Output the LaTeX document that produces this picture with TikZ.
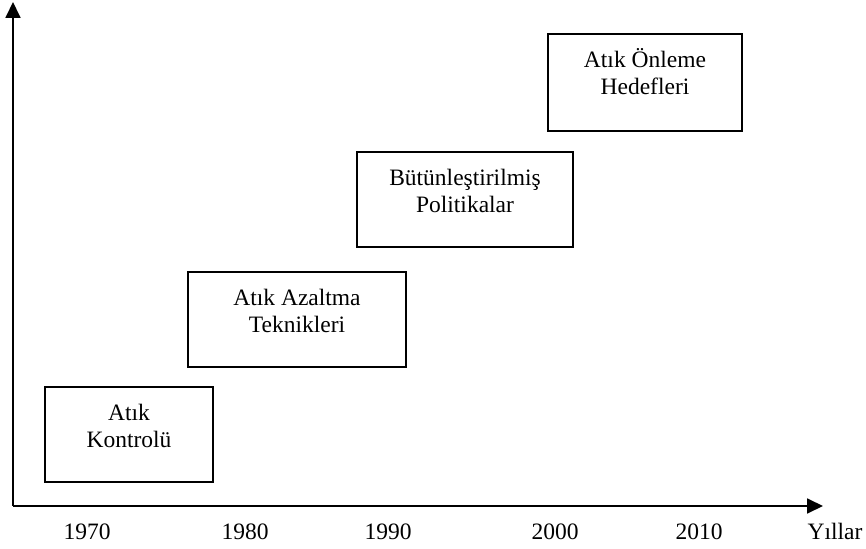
\documentclass[tikz,border=0pt]{standalone}
\usepackage{fontspec}
\setmainfont{Liberation Serif}
\usepackage{tikz}
\usetikzlibrary{arrows.meta}
\usetikzlibrary{positioning}

\tikzset{
    stage/.style={draw=black, line width=1.6pt, inner sep=0pt},
    stagetext/.style={align=center, inner sep=0pt, font=\fontsize{23.5}{27}\selectfont},
    yearlabel/.style={anchor=base, inner sep=0pt, font=\fontsize{23.5}{27}\selectfont},
    axisline/.style={line width=1.8pt, -{Triangle[length=16pt, width=15pt]}}
}

\begin{document}
\begin{tikzpicture}[x=1pt, y=-1pt]
            % Frame to ensure alignment:
            \useasboundingbox                                      (0.00, 0.00) rectangle (866.00, 548.00);
            % Axes
            \coordinate (origin) at ( 13.00, 506.00);
            \coordinate (ytop)   at ( 13.00,   2.00);
            \coordinate (xend)   at (823.00, 506.00);
            \draw[axisline] (origin) -- (ytop);
            \draw[axisline] (origin) -- (xend);
            % Year labels
            \node[yearlabel] (y1970)  at ( 87.00, 539.00) {1970};
            \node[yearlabel] (y1980)  at (245.00, 539.00) {1980};
            \node[yearlabel] (y1990)  at (388.00, 539.00) {1990};
            \node[yearlabel] (y2000)  at (555.00, 539.00) {2000};
            \node[yearlabel] (y2010)  at (699.00, 539.00) {2010};
            \node[yearlabel] (yillar) at (835.00, 539.00) {Yıllar};
            % Stages
            \node[stage, minimum width=168pt, minimum height=95pt] (kontrol)  at (129.00, 434.50) {};
            \node[stage, minimum width=218pt, minimum height=95pt] (azaltma)  at (297.00, 319.50) {};
            \node[stage, minimum width=216pt, minimum height=95pt] (politika) at (465.00, 199.50) {};
            \node[stage, minimum width=194pt, minimum height=97pt] (onleme)   at (645.00,  82.50) {};
            % Stage texts
            \node[stagetext, below=14pt of kontrol.north]  (kontroltext)  {\rule{0pt}{20pt}Atık\\Kontrolü};
            \node[stagetext, below=14pt of azaltma.north]  (azaltmatext)  {\rule{0pt}{20pt}Atık Azaltma\\Teknikleri};
            \node[stagetext, below=14pt of politika.north] (politikatext) {\rule{0pt}{20pt}Bütünleştirilmiş\\Politikalar};
            \node[stagetext, below=14pt of onleme.north]   (onlemetext)   {\rule{0pt}{20pt}Atık Önleme\\Hedefleri};
\end{tikzpicture}
\end{document}
